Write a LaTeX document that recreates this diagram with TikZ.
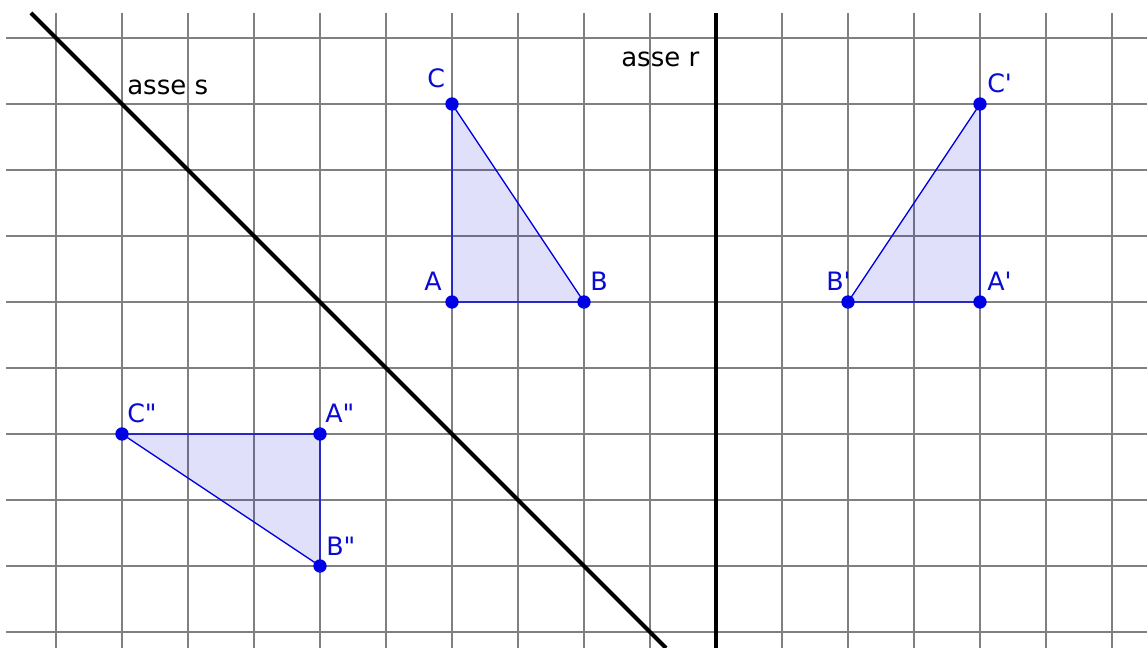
\documentclass[tikz,border=0pt]{standalone}
\usepackage{fontspec}
\setmainfont{DejaVu Sans}
\definecolor{ptblue}{RGB}{0,0,230}
\definecolor{lblblue}{RGB}{10,10,210}
\begin{document}
\begin{tikzpicture}[x=0.75pt,y=-0.75pt,
  gridline/.style={draw=black!50, line width=1.1pt},
  axisline/.style={draw=black, line width=3pt},
  tri/.style={draw=ptblue, line width=1pt, fill=ptblue, fill opacity=0.12, line join=round},
  pt/.style={circle, fill=ptblue, inner sep=0pt, minimum size=10pt},
  lbl/.style={text=lblblue, font=\fontsize{19}{19}\selectfont, anchor=base west, inner sep=0pt},
  axlbl/.style={text=black, font=\fontsize{19.5}{20}\selectfont, anchor=base west, inner sep=0pt}]
\useasboundingbox (0,0) rectangle (1147,648);
\fill[white] (0,0) rectangle (1147,648);
% grid
\foreach \k in {0,...,9}{\draw[gridline] (6,38+66*\k) -- (1147,38+66*\k);}
\foreach \k in {0,...,16}{\draw[gridline] (56+66*\k,13) -- (56+66*\k,648);}
% axes
\coordinate (s1) at (31,13);
\coordinate (s2) at (666,648);
\coordinate (r1) at (716,13);
\coordinate (r2) at (716,648);
\draw[axisline] (s1) -- (s2);
\draw[axisline] (r1) -- (r2);
\node[axlbl] (ls) at (127,95) {asse s};
\node[axlbl] (lr) at (621,67) {asse r};
% points
\coordinate (A) at (452,302);
\coordinate (B) at (584,302);
\coordinate (C) at (452,104);
\coordinate (A1) at (980,302);
\coordinate (B1) at (848,302);
\coordinate (C1) at (980,104);
\coordinate (A2) at (320,434);
\coordinate (B2) at (320,566);
\coordinate (C2) at (122,434);
% triangles
\filldraw[tri] (A) -- (B) -- (C) -- cycle;
\filldraw[tri] (A1) -- (B1) -- (C1) -- cycle;
\filldraw[tri] (A2) -- (B2) -- (C2) -- cycle;
% dots
\foreach \p in {A,B,C,A1,B1,C1,A2,B2,C2}{\node[pt] (d\p) at (\p) {};}
% labels
\node[lbl] (lC) at (427,88) {C};
\node[lbl] (lA) at (424,291) {A};
\node[lbl] (lB) at (590,291) {B};
\node[lbl] (lC1) at (987,93) {C\textquotesingle};
\node[lbl] (lB1) at (826,291) {B\textquotesingle};
\node[lbl] (lA1) at (987,291) {A\textquotesingle};
\node[lbl] (lC2) at (127,423) {C\textquotedbl};
\node[lbl] (lA2) at (325,423) {A\textquotedbl};
\node[lbl] (lB2) at (326,556) {B\textquotedbl};
\end{tikzpicture}
\end{document}
